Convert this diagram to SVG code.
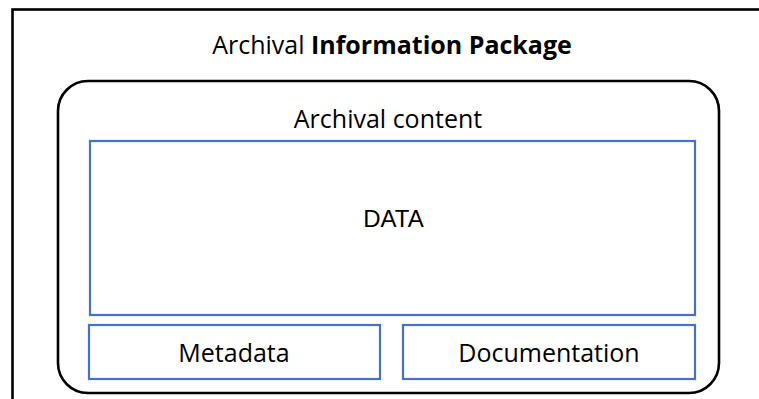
<svg xmlns="http://www.w3.org/2000/svg" width="759" height="399" viewBox="0 0 759 399">
<style>
.t{font-family:"Open Sans","Liberation Sans",sans-serif;fill:#000;text-anchor:middle;font-size:25px}
.d{font-family:"Liberation Sans",Arial,sans-serif;fill:#000;text-anchor:middle;font-size:24px}
.blue{fill:none;stroke:#4472C4;stroke-width:2.2}
</style>
<rect width="759" height="399" fill="#fff"/>
<g id="aip">
<rect x="12.5" y="9.5" width="760" height="400" fill="none" stroke="#000" stroke-width="2.6"/>
<text class="t" x="392" y="54">Archival <tspan font-weight="bold">Information Package</tspan></text>
</g>
<g id="content">
<rect x="58" y="81" width="661" height="312" rx="30" ry="30" fill="none" stroke="#000" stroke-width="2.6"/>
<text class="t" x="388" y="128">Archival content</text>
</g>
<g id="data">
<rect class="blue" x="90" y="141" width="605" height="174"/>
<text class="d" x="393.5" y="227">DATA</text>
</g>
<g id="metadata">
<rect class="blue" x="89" y="325" width="291" height="54"/>
<text class="t" x="234" y="362">Metadata</text>
</g>
<g id="documentation">
<rect class="blue" x="403" y="325" width="292" height="54"/>
<text class="t" x="549" y="362">Documentation</text>
</g>
<g id="connectors"></g>
</svg>
